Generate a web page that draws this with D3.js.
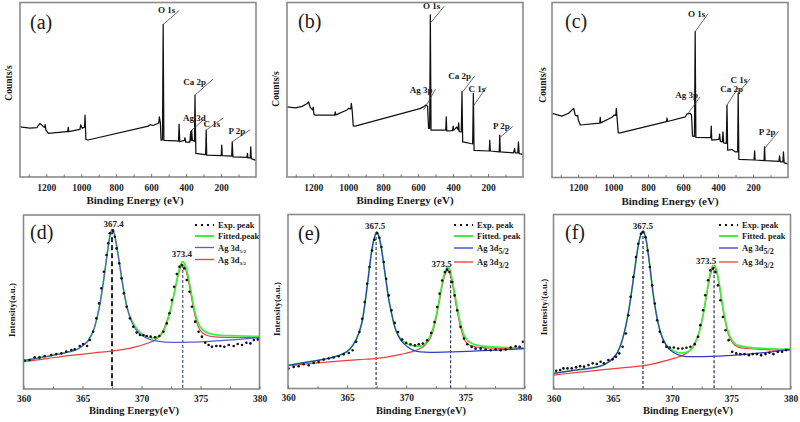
<!DOCTYPE html>
<html><head><meta charset="utf-8">
<script src="https://cdn.jsdelivr.net/npm/d3@7"></script>
<style>body{margin:0;background:#fff}</style>
</head><body>
<script>
// ================= DATA =================
const surveyDomain = [1350, 0];
const surveyMajorTicks = [1200, 1000, 800, 600, 400, 200];
const surveyMinorTicks = [1300, 1100, 900, 700, 500, 300, 100];
const hrDomain = [360, 380];
const hrMajorTicks = [360, 365, 370, 375, 380];
const hrMinorTicks = [362.5, 367.5, 372.5, 377.5];

const panelLabels = ["(a)", "(b)", "(c)", "(d)", "(e)", "(f)"];
const topXTitle = "Binding Energy (eV)";
const bottomXTitle = "Binding Energy(eV)";
const topYTitles = ["Counts/s", "Counts/s", "Counts/s"];
const bottomYTitles = ["Intensity(a.u.)", "Intensity(a.u.)", "Intensity/(a.u.)"];

// survey spectra [binding energy, relative counts]
const surveyA = [[1350,28.7],[1293,28.0],[1254,28.3],[1236,30.7],[1217,29.0],[1210,28.5],[1206,30.0],[1202,27.0],[1188,25.0],[1083,26.0],[1077,26.0],[1074,28.5],[1071,26.0],[1007,27.3],[1003,29.9],[994,28.0],[981,28.5],[978,35.4],[973,21.5],[961,21.2],[616,29.1],[606,30.0],[589,29.5],[566,30.5],[556,31.0],[553,34.5],[547,31.0],[543,21.1],[535,21.3],[531,87.4],[527,21.0],[458,20.7],[443,20.5],[440,30.3],[436,20.2],[410,21.0],[406,22.5],[402,20.0],[378,20.0],[374,25.9],[371,21.0],[368,26.7],[364,21.0],[352,20.5],[349,46.9],[344,13.5],[292,12.8],[288,12.8],[285,26.9],[282,12.5],[199,12.3],[196,18.3],[193,12.2],[139,12.0],[136,20.2],[132,11.5],[52,11.2],[49,13.5],[46,11.0],[33,11.0],[30,17.3],[27,10.5],[0,9.5]];
const surveyB = [[1350,40.2],[1302,39.6],[1264,40.5],[1236,42.0],[1226,43.0],[1217,39.9],[1204,38.5],[1200,40.0],[1196,36.0],[1188,35.4],[1093,35.4],[1077,35.4],[1074,37.3],[1071,35.6],[1007,38.4],[998,39.3],[985,39.0],[982,42.2],[977,38.0],[971,29.3],[960,29.1],[606,38.7],[587,39.3],[569,40.2],[555,41.2],[546,40.6],[540,27.8],[534,27.8],[530,92.9],[526,26.8],[445,26.8],[442,26.8],[439,34.5],[436,26.4],[403,26.6],[400,29.1],[396,26.8],[378,28.7],[371,27.0],[368,31.0],[365,26.0],[353,25.9],[349,48.9],[345,20.1],[330,19.8],[300,19.2],[288,19.0],[284,47.9],[280,15.3],[193,14.9],[190,21.1],[187,14.9],[136,14.4],[133,24.0],[130,14.4],[54,13.8],[48,16.3],[44,13.8],[30,13.8],[26,20.1],[22,13.4],[0,13.0]];
const surveyC = [[1350,36.7],[1293,35.1],[1255,36.7],[1226,39.5],[1217,35.7],[1210,35.2],[1203,35.5],[1200,33.0],[1188,30.0],[1093,30.9],[1077,31.0],[1074,34.4],[1071,31.2],[1007,34.4],[994,35.7],[985,35.5],[982,39.5],[977,33.0],[971,25.5],[960,25.5],[695,31.9],[692,34.0],[689,32.0],[587,34.7],[578,36.3],[559,36.7],[552,35.7],[546,23.7],[535,23.5],[531,83.4],[527,22.9],[445,22.8],[442,22.8],[439,29.4],[436,21.4],[395,21.8],[391,24.8],[387,20.6],[376,20.4],[372,26.1],[368,19.8],[353,19.5],[349,41.4],[345,15.6],[321,16.0],[302,14.7],[288,14.7],[285,48.1],[281,10.3],[194,10.0],[191,15.2],[188,10.0],[137,9.6],[134,17.5],[131,9.7],[52,9.2],[48,12.4],[44,9.0],[29,9.0],[26,14.7],[22,8.4],[0,7.7]];

// peak assignments [label, energy, value where leader attaches]
const annotA = [{t:"O 1s",e:531,v:87.4},{t:"Ca 2p",e:349,v:46.9},{t:"Ag 3d",e:368,v:26.7},{t:"C 1s",e:285,v:26.9},{t:"P 2p",e:136,v:20.2}];
const annotB = [{t:"O 1s",e:530,v:88.2},{t:"Ag 3p",e:569,v:38.3},{t:"Ca 2p",e:349,v:48.3},{t:"C 1s",e:284,v:40.6},{t:"P 2p",e:133,v:22.6}];
const annotC = [{t:"O 1s",e:531,v:83.4},{t:"Ag 3p",e:578,v:35.7},{t:"Ca 2p",e:349,v:41.4},{t:"C 1s",e:285,v:48.4},{t:"P 2p",e:134,v:16.6}];

// Ag 3d high resolution (d)
const expD = [[360.09,16.3],[360.51,16.7],[360.94,18.2],[361.36,18.2],[361.79,19.0],[362.35,19.5],[362.78,20.1],[363.21,20.5],[363.63,21.5],[364.06,22.4],[364.34,22.8],[364.77,24.7],[365.05,25.9],[365.39,24.7],[365.62,28.2],[365.9,32.9],[366.18,40.6],[366.41,49.2],[366.61,57.9],[366.81,67.4],[367.03,77.0],[367.18,83.7],[367.32,89.5],[367.6,91.0],[367.74,87.5],[367.89,80.8],[368.11,72.2],[368.31,63.6],[368.51,55.0],[368.74,47.3],[369.02,40.6],[369.3,35.8],[369.59,32.4],[369.87,31.0],[370.16,31.0],[370.44,30.5],[370.78,30.1],[371.15,29.7],[371.52,30.5],[371.86,32.9],[372.14,37.7],[372.37,43.5],[372.57,51.1],[372.77,58.8],[372.99,66.1],[373.22,70.3],[373.42,71.3],[373.62,69.3],[373.84,62.6],[374.07,55.9],[374.27,47.3],[374.55,38.7],[374.84,32.9],[375.12,30.1],[375.4,26.6],[375.69,25.3],[375.97,24.3],[376.34,24.7],[376.68,24.7],[377.02,24.3],[377.39,25.3],[377.81,24.7],[378.15,25.9],[378.52,25.3],[378.89,26.6],[379.23,26.2],[379.52,28.2],[379.86,28.5]];
const fitD = [[360,16.3],[361,17.5],[362,18.7],[363,20],[364,21.6],[364.6,23],[365,24.8],[365.5,28],[366,35],[366.4,46],[366.8,63],[367.1,78],[367.3,87],[367.5,91.8],[367.7,89],[367.9,82],[368.2,69],[368.5,56.5],[368.8,46.5],[369.2,39],[369.8,33],[370.4,30.2],[370.9,29.3],[371.4,30],[371.8,32.5],[372.1,37],[372.5,46.5],[372.8,56],[373.1,66],[373.3,71],[373.5,73.2],[373.7,71.3],[373.95,65],[374.2,56],[374.5,45],[374.8,38],[375.2,34],[375.8,31.8],[376.5,31],[378,30.6],[380,30.2]];
const ag52D = [[360,16.3],[361,17.5],[362,18.7],[363,20],[364,21.6],[364.6,23],[365,24.8],[365.5,28],[366,35],[366.4,46],[366.8,63],[367.1,78],[367.3,87],[367.5,91.8],[367.7,89],[367.9,82],[368.2,69],[368.5,56],[368.8,46],[369.2,38],[369.8,32],[370.5,29],[371.2,27.6],[372,27],[373,26.8],[374,26.9],[375,27.1],[376,27.5],[378,28.4],[380,29.5]];
const ag32D = [[360,15.7],[362,17.5],[364,19.3],[366,20.8],[367.5,21.8],[368.5,22.8],[369.5,24.2],[370.5,26.3],[371.2,28.5],[371.7,32],[372.1,38],[372.5,47],[372.8,56],[373.1,65],[373.3,69.5],[373.5,71.3],[373.7,69.5],[373.95,63],[374.2,54],[374.5,43],[374.8,36],[375.2,32],[375.8,30.3],[376.5,29.8],[378,29.7],[380,29.7]];
const peaksD = [{t:"367.4",e:367.5,v:91.8},{t:"373.4",e:373.5,v:73.2}];
const dashD = [{e:367.5,v:91.8},{e:373.5,v:71.3}];

// (e)
const expE = [[360.05,11.5],[360.48,12.4],[360.9,12.8],[361.32,13.9],[361.75,13.4],[362.17,14.7],[362.59,15.3],[363.02,16.6],[363.44,17.2],[363.86,17.8],[364.29,18.5],[364.71,19.7],[365.14,20.4],[365.47,22.0],[365.76,26.8],[366.04,32.5],[366.27,40.1],[366.49,49.7],[366.69,60.2],[366.89,69.8],[367.11,79.3],[367.31,85.5],[367.54,89.3],[367.73,86.6],[367.9,81.3],[368.1,72.7],[368.3,63.1],[368.52,53.5],[368.75,44.9],[369.03,37.7],[369.31,32.5],[369.65,28.1],[369.99,26.2],[370.36,25.4],[370.73,24.8],[371.06,25.4],[371.4,25.8],[371.77,27.7],[372.11,31.9],[372.39,38.2],[372.62,46.8],[372.82,54.5],[373.04,62.1],[373.27,66.9],[373.46,68.3],[373.66,66.9],[373.89,61.2],[374.09,53.5],[374.31,44.9],[374.59,35.4],[374.88,28.7],[375.16,25.4],[375.53,23.9],[375.86,22.9],[376.29,22.9],[376.71,22.4],[377.13,22.0],[377.56,22.4],[377.98,22.0],[378.41,22.4],[378.83,23.5],[379.25,24.3],[379.59,23.9],[379.87,26.8]];
const fitE = [[360,13.3],[361,14.5],[362,15.6],[363,16.8],[364,18.3],[364.6,19.8],[365,21.3],[365.5,25],[366,32],[366.3,39.5],[366.7,59],[367.1,80],[367.3,86.5],[367.5,89.9],[367.7,87],[367.9,80.5],[368.1,71],[368.3,61.5],[368.5,52],[368.75,43.5],[369,36],[369.3,31],[369.6,28],[370.1,25.6],[370.7,24.4],[371.2,24.3],[371.6,25.8],[372.1,31.5],[372.4,38],[372.65,46],[372.85,53.5],[373.05,61],[373.3,67.5],[373.5,69.8],[373.7,68],[373.9,62],[374.1,54.5],[374.35,45],[374.6,37],[374.9,30.5],[375.2,27.5],[375.8,25.2],[376.5,24.3],[378,23.7],[380,23.3]];
const ag52E = [[360,13.3],[361,14.5],[362,15.6],[363,16.8],[364,18.3],[364.6,19.8],[365,21.3],[365.5,25],[366,32],[366.3,39.5],[366.7,59],[367.1,80],[367.3,86.5],[367.5,89.9],[367.7,87],[367.9,80.5],[368.1,71],[368.3,61.5],[368.5,52],[368.75,43.5],[369,36],[369.3,30.6],[370.1,24],[371.2,21],[372,20.8],[374,21.1],[376,21.6],[378,22.2],[380,22.9]];
const ag32E = [[360,13],[362,14.4],[364,15.6],[366,16.6],[367.5,17.3],[368.5,18.2],[369.5,19.6],[370.5,21.2],[371.1,22.7],[371.6,25],[372.1,30],[372.4,36.5],[372.65,44.5],[372.85,52],[373.05,59.5],[373.3,66],[373.5,67.9],[373.7,66],[373.9,60],[374.1,52.5],[374.35,43],[374.6,35],[374.9,28.5],[375.2,25.5],[375.8,24],[376.5,23.5],[378,23.1],[380,22.9]];
const peaksE = [{t:"367.5",e:367.5,v:89.9},{t:"373.5",e:373.5,v:69.8}];
const dashE = [{e:367.45,v:89.9},{e:373.75,v:68}];

// (f)
const expF = [[360.23,10.5],[360.56,10.9],[360.84,11.8],[361.18,11.8],[361.54,11.8],[361.91,12.4],[362.25,13.1],[362.58,12.8],[362.95,13.7],[363.31,14.7],[363.65,14.3],[363.98,15.6],[364.26,14.7],[364.63,16.6],[364.99,17.0],[365.27,18.5],[365.55,20.4],[365.83,24.2],[366.11,31.8],[366.31,42.3],[366.51,52.8],[366.73,64.2],[366.96,75.6],[367.15,83.2],[367.38,89.0],[367.57,89.9],[367.77,87.0],[367.94,79.4],[368.13,69.9],[368.33,59.4],[368.55,49.0],[368.75,39.4],[368.97,32.8],[369.25,27.0],[369.53,24.2],[369.81,23.8],[370.15,23.8],[370.52,23.2],[370.88,23.2],[371.22,23.6],[371.55,24.2],[371.92,25.7],[372.2,29.9],[372.39,36.6],[372.62,45.1],[372.81,53.7],[373.04,62.3],[373.23,68.0],[373.46,69.0],[373.66,67.0],[373.88,59.4],[374.08,50.9],[374.3,41.3],[374.52,33.7],[374.78,28.0],[375.08,21.3],[375.42,20.4],[375.76,20.0],[376.12,20.0],[376.49,19.4],[376.82,20.0],[377.16,20.0],[377.52,19.4],[377.89,20.0],[378.22,20.8],[378.56,20.0],[378.93,21.3],[379.29,21.3],[379.63,22.3]];
const fitF = [[360,9],[361,10],[362,10.9],[363,11.8],[363.6,12.5],[364.3,14],[365,17.5],[365.4,21],[365.8,28],[366.1,36],[366.4,47],[366.8,66],[367.1,80],[367.3,87],[367.55,90.5],[367.8,86],[368.1,72],[368.4,55],[368.7,42],[369,33],[369.5,25.5],[370.1,22],[370.8,20.6],[371.4,21.5],[371.9,25.5],[372.3,32.5],[372.65,43.5],[372.95,56],[373.2,65.5],[373.38,70],[373.55,70.9],[373.75,68.5],[373.95,62],[374.2,51],[374.45,41],[374.75,32.5],[375.1,27.5],[375.6,25],[376.3,24],[378,23.2],[380,22.8]];
const ag52F = [[360,9],[361,10],[362,10.9],[363,11.8],[363.6,12.5],[364.3,14],[365,17.5],[365.4,21],[365.8,28],[366.1,36],[366.4,47],[366.8,66],[367.1,80],[367.3,87],[367.55,90.5],[367.8,86],[368.1,72],[368.4,55],[368.7,42],[369,33],[369.5,25],[370.1,21],[370.8,19],[371.5,18.5],[372.5,18.5],[374,18.9],[376,19.7],[378,21],[380,22.7]];
const ag32F = [[360,8],[362,9.5],[364,11],[366,12.3],[367.5,13.2],[368.5,14.5],[369.5,16.3],[370.3,17.8],[370.9,19.3],[371.5,22],[371.9,26],[372.3,33],[372.65,43],[372.95,55],[373.2,64],[373.38,68.5],[373.55,69.9],[373.75,67.5],[373.95,61],[374.2,50],[374.45,40],[374.75,31.5],[375.1,26.5],[375.6,24],[376.3,23.2],[378,22.6],[380,22.3]];
const peaksF = [{t:"367.5",e:367.55,v:90.5},{t:"373.5",e:373.55,v:70.9}];
const dashF = [{e:367.55,v:90.5},{e:373.55,v:70.9}];

const legendD = ["Exp. peak", "Fitted.peak", "Ag 3d", "Ag 3d"];
const legendEF = ["Exp. peak", "Fitted. peak", "Ag 3d", "Ag 3d"];
const legendSubs = ["5/2", "3/2"];

// ================= LAYOUT / STYLE =================
const FONT = '"Liberation Serif","Times New Roman",Times,serif';
const topFrames = [{x0:20,x1:256,y0:2.5,y1:177},{x0:287,x1:523,y0:2.5,y1:177},{x0:552,x1:788,y0:2.5,y1:177.5}];
const botFrames = [{x0:23.5,x1:259.5,y0:215,y1:389},{x0:288,x1:524.5,y0:214.5,y1:388.5},{x0:553.5,x1:790.5,y0:214.5,y1:389}];
const topLabelPos = [[30,22],[298,21],[565,21]];
const botLabelPos = [[30,232],[298,233],[565,232]];
const topXTitleX = [135, 405, 670];
const botXTitleX = [134, 421, 688];
const topYTitlePos = [[9,83],[276,89],[543,85]];
const botYTitlePos = [[12,310],[277,309],[544,307]];
const leaderA = [[16,-14,-4,3],[18,-16,-7,6],[12,-11,2,2],[17,-12,-3,9],[18,-12,-5,4]];
const leaderB = [[14,-17,-4,3],[12,-21,-3,4],[13,-17,-4,3],[13,-19,-1,5],[13,-11,-3,2]];
const leaderC = [[13,-18,-3,3],[13,-18,-2,1],[11,-17,5,4],[12,-14,-3,4],[14,-17,-3,4]];
const peakLabelOff = [[[1.5,-2],[-1,-5]],[[-1.5,-3],[-6,-0.5]],[[0,-2],[-8,-1]]];
const legendLayout = [
  {sx0:195,sx1:214,tx:218,rows:[225,236,247.5,259.5],subSize:5,subDy:2},
  {sx0:454,sx1:473,tx:477,rows:[225,236,248,262],subSize:8,subDy:3},
  {sx0:719,sx1:738,tx:742,rows:[225,236,248,262],subSize:8,subDy:3}
];
const GREEN = "#3ff03f", RED = "#f23c3c";
const BLUES = ["#5a5ad2", "#2b3ec4", "#3a3ac0"];
const dashStyles = [
  [{c:"#111",w:1.8,d:"5,3"},{c:"#26306a",w:1,d:"3,2"}],
  [{c:"#3a3a55",w:1.2,d:"3,2"},{c:"#3a3a66",w:1.2,d:"3,2"}],
  [{c:"#2a2a60",w:1.2,d:"3,2"},{c:"#2a2a60",w:1.2,d:"3,2"}]
];

// ================= DRAW =================
const svg = d3.select("body").append("svg").attr("width",800).attr("height",422);
svg.append("rect").attr("width",800).attr("height",422).attr("fill","#fff");
const defs = svg.append("defs");

function txt(x, y, s, size, weight, anchor) {
  return svg.append("text").attr("x",x).attr("y",y).text(s)
    .attr("font-family",FONT).attr("font-size",size).attr("font-weight",weight||"bold")
    .attr("text-anchor",anchor||"start").attr("fill","#1a1a1a");
}
function frame(fr) {
  svg.append("rect").attr("x",fr.x0).attr("y",fr.y0).attr("width",fr.x1-fr.x0).attr("height",fr.y1-fr.y0)
    .attr("fill","none").attr("stroke","#8a8a8a").attr("stroke-width",1.6);
}
function ticks(fr, x, major, minor, pad) {
  const g = svg.append("g").attr("transform",`translate(0,${fr.y1})`);
  g.call(d3.axisBottom(x).tickValues(major).tickSize(-3).tickPadding(pad).tickFormat(d3.format("d")));
  g.select(".domain").remove();
  g.selectAll("line").attr("stroke","#777");
  g.selectAll("text").attr("font-family",FONT).attr("font-size",9.5).attr("font-weight","bold").attr("fill","#222");
  const g2 = svg.append("g").attr("transform",`translate(0,${fr.y1})`);
  g2.call(d3.axisBottom(x).tickValues(minor).tickSize(-2.5).tickFormat(""));
  g2.select(".domain").remove();
  g2.selectAll("line").attr("stroke","#777");
}
function clip(id, fr) {
  defs.append("clipPath").attr("id",id).append("rect")
    .attr("x",fr.x0).attr("y",fr.y0).attr("width",fr.x1-fr.x0).attr("height",fr.y1-fr.y0);
}

const surveys = [surveyA, surveyB, surveyC];
const annots = [annotA, annotB, annotC];
const leaders = [leaderA, leaderB, leaderC];
surveys.forEach((data, i) => {
  const fr = topFrames[i];
  const x = d3.scaleLinear().domain(surveyDomain).range([fr.x0, fr.x1]);
  const y = d3.scaleLinear().domain([0, 100]).range([fr.y1, fr.y0]);
  clip("ct"+i, fr);
  svg.append("path").datum(data).attr("clip-path",`url(#ct${i})`)
    .attr("d", d3.line().x(d=>x(d[0])).y(d=>y(d[1])))
    .attr("fill","none").attr("stroke","#111").attr("stroke-width",1.25).attr("stroke-linejoin","round");
  annots[i].forEach((a, k) => {
    const L = leaders[i][k];
    const x0 = x(a.e), y0 = y(a.v), x1 = x0 + L[0], y1 = y0 + L[1];
    svg.append("line").attr("x1",x0).attr("y1",y0).attr("x2",x1).attr("y2",y1)
      .attr("stroke","#444").attr("stroke-width",0.8);
    txt(x1 + L[2], y1 + L[3], a.t, 9, "bold", "end");
  });
  frame(fr);
  ticks(fr, x, surveyMajorTicks, surveyMinorTicks, 7);
  txt(topXTitleX[i], fr.y1 + 27, topXTitle, 11, "bold", "middle");
  const yp = topYTitlePos[i];
  svg.append("text").attr("transform",`translate(${yp[0]},${yp[1]}) rotate(-90)`)
    .attr("text-anchor","middle").attr("dominant-baseline","central")
    .attr("font-family",FONT).attr("font-size",9.5).attr("font-weight","bold").attr("fill","#1a1a1a")
    .text(topYTitles[i]);
  txt(topLabelPos[i][0], topLabelPos[i][1], panelLabels[i], 20, "normal").attr("dominant-baseline","central");
});

const hr = [
  {exp:expD, fit:fitD, b:ag52D, r:ag32D, peaks:peaksD, dash:dashD, leg:legendD},
  {exp:expE, fit:fitE, b:ag52E, r:ag32E, peaks:peaksE, dash:dashE, leg:legendEF},
  {exp:expF, fit:fitF, b:ag52F, r:ag32F, peaks:peaksF, dash:dashF, leg:legendEF}
];
hr.forEach((p, i) => {
  const fr = botFrames[i];
  const x = d3.scaleLinear().domain(hrDomain).range([fr.x0, fr.x1]);
  const y = d3.scaleLinear().domain([0, 100]).range([fr.y1, fr.y0]);
  const line = d3.line().x(d=>x(d[0])).y(d=>y(d[1])).curve(d3.curveMonotoneX);
  clip("cb"+i, fr);
  const g = svg.append("g").attr("clip-path",`url(#cb${i})`);
  p.dash.forEach((d, k) => {
    const st = dashStyles[i][k];
    g.append("line").attr("x1",x(d.e)).attr("x2",x(d.e)).attr("y1",y(d.v)).attr("y2",y(0))
      .attr("stroke",st.c).attr("stroke-width",st.w).attr("stroke-dasharray",st.d);
  });
  g.append("path").datum(p.r).attr("d",line).attr("fill","none").attr("stroke",RED).attr("stroke-width",1.2);
  g.append("path").datum(p.fit).attr("d",line).attr("fill","none").attr("stroke",GREEN).attr("stroke-width",1.7);
  g.append("path").datum(p.b).attr("d",line).attr("fill","none").attr("stroke",BLUES[i]).attr("stroke-width",1.25);
  g.selectAll("circle.e").data(p.exp).enter().append("circle")
    .attr("cx",d=>x(d[0])).attr("cy",d=>y(d[1])).attr("r",1.3).attr("fill","#111");
  p.peaks.forEach((pk, k) => {
    const o = peakLabelOff[i][k];
    txt(x(pk.e) + o[0], y(pk.v) + o[1], pk.t, 9, "bold", "middle");
  });
  const L = legendLayout[i];
  const sw = [{c:"#111",w:2,d:"2,4"},{c:GREEN,w:2,d:null},{c:BLUES[i],w:1.3,d:null},{c:RED,w:1.3,d:null}];
  p.leg.forEach((s, k) => {
    const yy = L.rows[k];
    const ln = svg.append("line").attr("x1",L.sx0).attr("x2",L.sx1).attr("y1",yy).attr("y2",yy)
      .attr("stroke",sw[k].c).attr("stroke-width",sw[k].w);
    if (sw[k].d) ln.attr("stroke-dasharray",sw[k].d);
    const t = txt(L.tx, yy + 3, s, 8.5, "bold");
    if (k >= 2) {
      t.append("tspan").attr("font-size",L.subSize).attr("dy",L.subDy).text(legendSubs[k-2]);
    }
  });
  frame(fr);
  ticks(fr, x, hrMajorTicks, hrMinorTicks, 6);
  txt(botXTitleX[i], fr.y1 + 25, bottomXTitle, 10.5, "bold", "middle");
  const yp = botYTitlePos[i];
  svg.append("text").attr("transform",`translate(${yp[0]},${yp[1]}) rotate(-90)`)
    .attr("text-anchor","middle").attr("dominant-baseline","central")
    .attr("font-family",FONT).attr("font-size",9).attr("font-weight","bold").attr("fill","#1a1a1a")
    .text(bottomYTitles[i]);
  txt(botLabelPos[i][0], botLabelPos[i][1], panelLabels[i+3], 20, "normal").attr("dominant-baseline","central");
});
</script>
</body></html>
